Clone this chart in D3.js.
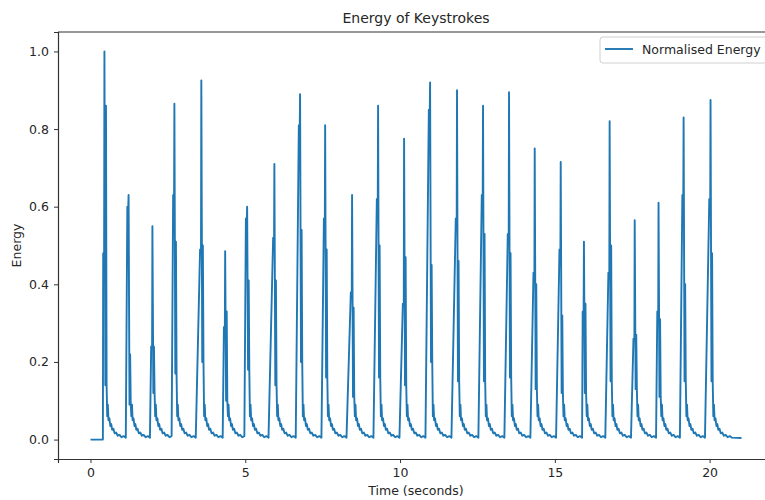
<!DOCTYPE html>
<html>
<head>
<meta charset="utf-8">
<script src="https://cdn.jsdelivr.net/npm/d3@7"></script>
<style>
  body { margin: 0; background: #fff; }
  svg { display: block; overflow: hidden; }
  text { font-family: "DejaVu Sans", sans-serif; fill: #262626; }
</style>
</head>
<body>
<svg id="chart"></svg>
<script>
// One entry per keystroke
const onsets    = [0.41, 1.19, 1.96, 2.67, 3.54, 4.31, 5.02, 5.90, 6.73, 7.54, 8.41, 9.25, 10.09,
                   10.93, 11.80, 12.64, 13.48, 14.31, 15.15, 15.90, 16.73, 17.54, 18.31, 19.12, 19.99]
const peaks     = [1.00, 0.63, 0.55, 0.865, 0.925, 0.485, 0.60, 0.71, 0.89, 0.81, 0.63, 0.86, 0.775,
                   0.92, 0.90, 0.86, 0.895, 0.75, 0.715, 0.51, 0.82, 0.565, 0.61, 0.83, 0.875]
const shoulders = [0.48, 0.60, 0.24, 0.63, 0.49, 0.29, 0.57, 0.52, 0.81, 0.57, 0.38, 0.62, 0.35,
                   0.85, 0.57, 0.63, 0.53, 0.43, 0.49, 0.33, 0.43, 0.26, 0.33, 0.63, 0.62]
const echoes    = [0.86, 0.22, 0.24, 0.51, 0.50, 0.33, 0.41, 0.41, 0.54, 0.49, 0.34, 0.50, 0.47,
                   0.45, 0.46, 0.53, 0.48, 0.40, 0.32, 0.35, 0.50, 0.27, 0.31, 0.40, 0.48]
const knots     = [0.14, 0.09, 0.12, 0.17, 0.20, 0.10, 0.18, 0.14, 0.20, 0.16, 0.11, 0.16, 0.14,
                   0.20, 0.15, 0.15, 0.16, 0.13, 0.12, 0.12, 0.15, 0.13, 0.11, 0.15, 0.15]

// Decay after each keystroke: [seconds after onset, energy]
const tailTimes  = [0.13, 0.15, 0.17, 0.20, 0.23, 0.26, 0.29, 0.33, 0.37, 0.42, 0.47, 0.53, 0.59, 0.66, 0.73]
const tailValues = [0.06, 0.09, 0.05, 0.055, 0.035, 0.04, 0.025, 0.028, 0.016, 0.018, 0.010, 0.012, 0.006, 0.009, 0.005]

const startTime = 0
const endTime = 21.03
const endValue = 0.004

const xTicks = [0, 5, 10, 15, 20]
const yTicks = [0, 0.2, 0.4, 0.6, 0.8, 1.0]

const width = 765
const height = 500

const svg = d3.select("#chart")
  .attr("width", width)
  .attr("height", height)

const x = d3.scaleLinear().domain([-1.05, 22.08]).range([58, 774])
const y = d3.scaleLinear().domain([-0.05, 1.05]).range([459, 32])

// Assemble the trace from the keystroke tables
const series = [{ t: startTime, v: 0 }, { t: onsets[0] - 0.01, v: 0 }]
onsets.forEach((t0, i) => {
  series.push({ t: t0, v: shoulders[i] })
  series.push({ t: t0 + 0.03, v: shoulders[i] })
  series.push({ t: t0 + 0.04, v: peaks[i] })
  series.push({ t: t0 + 0.07, v: knots[i] })
  series.push({ t: t0 + 0.09, v: echoes[i] })
  series.push({ t: t0 + 0.11, v: knots[i] })
  tailTimes.forEach((dt, j) => {
    if (i + 1 < onsets.length && t0 + dt >= onsets[i + 1] - 0.01) return
    series.push({ t: t0 + dt, v: tailValues[j] })
  })
})
series.push({ t: endTime, v: endValue })

const line = d3.line()
  .x(d => x(d.t))
  .y(d => y(d.v))

svg.append("path")
  .datum(series)
  .attr("fill", "none")
  .attr("stroke", "#1f77b4")
  .attr("stroke-width", 1.9)
  .attr("stroke-linejoin", "round")
  .attr("d", line)

// Axes
svg.append("g")
  .attr("transform", `translate(0, ${y.range()[0]})`)
  .call(d3.axisBottom(x).tickValues(xTicks).tickFormat(d3.format("d")).tickSizeOuter(0).tickSize(4).tickPadding(5))
  .call(g => g.select(".domain").attr("stroke", "#333").attr("stroke-width", 1.2))
  .call(g => g.selectAll(".tick line").attr("stroke", "#333"))
  .call(g => g.selectAll(".tick text").attr("font-size", 12.5).attr("fill", "#262626"))

svg.append("g")
  .attr("transform", `translate(${x.range()[0]}, 0)`)
  .call(d3.axisLeft(y).tickValues(yTicks).tickFormat(d3.format(".1f")).tickSizeOuter(0).tickSize(4).tickPadding(5))
  .call(g => g.select(".domain").attr("stroke", "#333").attr("stroke-width", 1.2))
  .call(g => g.selectAll(".tick line").attr("stroke", "#333"))
  .call(g => g.selectAll(".tick text").attr("font-size", 12.5).attr("fill", "#262626"))

// Top spine
svg.append("line")
  .attr("x1", x.range()[0]).attr("x2", x.range()[1])
  .attr("y1", y.range()[1]).attr("y2", y.range()[1])
  .attr("stroke", "#333").attr("stroke-width", 1.2)

// Labels
svg.append("text")
  .attr("x", (x.range()[0] + x.range()[1]) / 2)
  .attr("y", 23)
  .attr("text-anchor", "middle")
  .attr("font-size", 14)
  .text("Energy of Keystrokes")

svg.append("text")
  .attr("x", (x.range()[0] + x.range()[1]) / 2)
  .attr("y", 495)
  .attr("text-anchor", "middle")
  .attr("font-size", 12.5)
  .text("Time (seconds)")

svg.append("text")
  .attr("transform", `translate(21, ${(y.range()[0] + y.range()[1]) / 2}) rotate(-90)`)
  .attr("text-anchor", "middle")
  .attr("font-size", 12.5)
  .text("Energy")

// Legend
const legend = svg.append("g").attr("transform", "translate(600, 37)")
legend.append("rect")
  .attr("width", 172).attr("height", 26).attr("rx", 3)
  .attr("fill", "#fff").attr("fill-opacity", 0.8)
  .attr("stroke", "#d0d0d0")
legend.append("line")
  .attr("x1", 5).attr("x2", 33).attr("y1", 12).attr("y2", 12)
  .attr("stroke", "#1f77b4").attr("stroke-width", 1.9)
legend.append("text")
  .attr("x", 42).attr("y", 16.5)
  .attr("font-size", 12.5)
  .text("Normalised Energy")
</script>
</body>
</html>
